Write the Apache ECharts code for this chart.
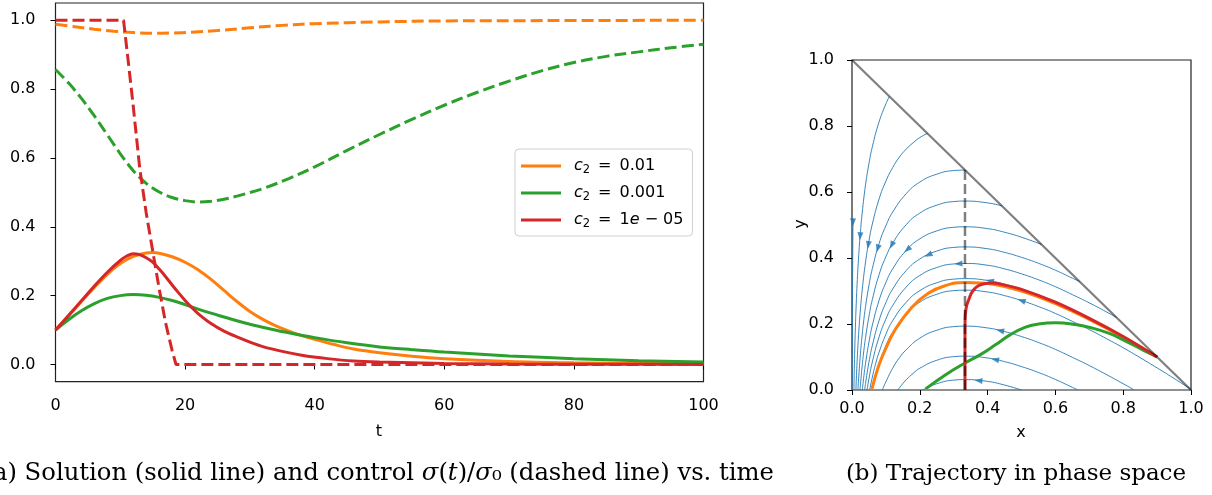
<!DOCTYPE html>
<html>
<head>
<meta charset="utf-8">
<script src="https://cdn.jsdelivr.net/npm/echarts@6/dist/echarts.min.js"></script>
<style>
  html, body { margin: 0; padding: 0; background: #fff; }
  #chart { width: 1212px; height: 495px; }
</style>
</head>
<body>
<div id="chart"></div>
<script>
// ---------- (a) time series: [t, value] ----------
const orangeSolid = [[0,0.1],[2,0.141],[4,0.183],[6,0.224],[8,0.262],[10,0.293],[12,0.314],[14,0.324],[15,0.325],[16,0.323],[18,0.313],[20,0.297],[22,0.275],[24,0.247],[26,0.215],[28,0.183],[30,0.154],[32,0.131],[34,0.112],[36,0.097],[38,0.084],[40,0.073],[43,0.058],[46,0.045],[50,0.034],[55,0.024],[60,0.017],[70,0.009],[80,0.005],[90,0.003],[100,0.002]];
const orangeDashed = [[0,0.988],[3,0.981],[6,0.974],[9,0.968],[12,0.964],[15,0.962],[18,0.963],[21,0.965],[25,0.970],[30,0.978],[35,0.985],[40,0.990],[50,0.995],[60,0.998],[80,0.999],[100,1.0]];
const greenSolid = [[0,0.1],[2,0.130],[4,0.156],[6,0.177],[8,0.192],[10,0.200],[12,0.203],[14,0.201],[16,0.195],[18,0.186],[20,0.174],[22,0.161],[24,0.149],[26,0.138],[28,0.127],[30,0.117],[33,0.104],[36,0.092],[40,0.078],[45,0.063],[50,0.051],[55,0.043],[60,0.036],[70,0.025],[80,0.017],[90,0.011],[100,0.007]];
const greenDashed = [[0,0.857],[2,0.818],[4,0.773],[6,0.722],[8,0.667],[10,0.612],[12,0.563],[14,0.526],[16,0.501],[18,0.485],[20,0.476],[22,0.472],[24,0.474],[26,0.480],[28,0.489],[32,0.511],[36,0.540],[40,0.574],[45,0.622],[50,0.668],[55,0.712],[60,0.753],[65,0.790],[70,0.823],[75,0.853],[80,0.877],[85,0.895],[90,0.908],[95,0.920],[100,0.930]];
const redSolid = [[0,0.1],[2,0.142],[4,0.185],[6,0.228],[8,0.268],[10,0.302],[11,0.315],[12,0.322],[13,0.319],[14,0.310],[15,0.297],[16,0.277],[17,0.255],[18,0.231],[19,0.208],[20,0.186],[21,0.166],[22,0.148],[24,0.119],[26,0.097],[28,0.080],[30,0.065],[32,0.052],[35,0.038],[38,0.027],[42,0.017],[46,0.010],[50,0.007],[60,0.003],[70,0.0012],[85,0.0005],[100,0.0002]];
const redDashed = [[0,1],[10.5,1],[11.2,0.885],[12,0.75],[13,0.57],[14,0.44],[15,0.33],[16,0.22],[17,0.12],[18,0.04],[18.6,0],[100,0]];

const tTicks = [0, 20, 40, 60, 80, 100];
const vTicks = [0, 0.2, 0.4, 0.6, 0.8, 1.0];
const legendNames = ['c2 = 0.01', 'c2 = 0.001', 'c2 = 1e − 05'];

// ---------- (b) phase plane: [x, y] ----------
// streamlines of the uncontrolled flow, listed in the direction of motion
const streamM = [[0.003,0.52],[0.0025,0.46],[0.002,0.385],[0.0015,0.29],[0.001,0.155],[0.0006,0]];
const streamA = [[0.110,0.889],[0.1,0.867],[0.08,0.813],[0.06,0.737],[0.05,0.686],[0.04,0.622],[0.03,0.536],[0.025,0.480],[0.02,0.411],[0.015,0.320],[0.012,0.249],[0.01,0.190],[0.008,0.118],[0.007,0.074],[0.006,0.024],[0.0056,0]];
const streamB = [[0.2225,0.7775],[0.2,0.765],[0.18,0.749],[0.16,0.730],[0.14,0.706],[0.12,0.674],[0.1,0.633],[0.08,0.579],[0.06,0.503],[0.05,0.452],[0.04,0.388],[0.03,0.302],[0.025,0.246],[0.02,0.177],[0.018,0.144],[0.015,0.086],[0.012,0.015],[0.0115,0]];
const streamC = [[0.3333,0.6665],[0.3,0.665],[0.25,0.654],[0.2,0.630],[0.16,0.595],[0.12,0.539],[0.1,0.498],[0.08,0.444],[0.06,0.368],[0.05,0.317],[0.04,0.253],[0.035,0.214],[0.03,0.167],[0.025,0.111],[0.02,0.042],[0.0174,0]];
const streamD = [[0.442,0.558],[0.4,0.567],[0.3333,0.5725],[0.3,0.571],[0.25,0.560],[0.2,0.536],[0.16,0.501],[0.12,0.445],[0.1,0.404],[0.08,0.350],[0.06,0.274],[0.05,0.223],[0.04,0.159],[0.035,0.120],[0.03,0.073],[0.025,0.017],[0.0235,0]];
const streamE = [[0.559,0.441],[0.5,0.463],[0.45,0.478],[0.4,0.489],[0.3333,0.4945],[0.3,0.493],[0.25,0.482],[0.2,0.458],[0.16,0.423],[0.12,0.367],[0.1,0.326],[0.08,0.272],[0.06,0.196],[0.05,0.145],[0.04,0.081],[0.035,0.042],[0.0305,0]];
const streamF = [[0.671,0.329],[0.65,0.339],[0.6,0.363],[0.55,0.384],[0.5,0.402],[0.45,0.417],[0.4,0.428],[0.3333,0.4335],[0.3,0.432],[0.25,0.421],[0.2,0.397],[0.16,0.362],[0.12,0.306],[0.1,0.265],[0.08,0.211],[0.06,0.135],[0.05,0.084],[0.045,0.054],[0.04,0.020],[0.0373,0]];
const streamG = [[0.78,0.220],[0.75,0.237],[0.7,0.264],[0.65,0.289],[0.6,0.313],[0.55,0.334],[0.5,0.352],[0.45,0.367],[0.4,0.378],[0.3333,0.3835],[0.3,0.382],[0.25,0.371],[0.2,0.347],[0.16,0.312],[0.12,0.256],[0.1,0.215],[0.08,0.161],[0.06,0.085],[0.05,0.034],[0.0443,0]];
const streamH = [[0.895,0.105],[0.85,0.133],[0.8,0.163],[0.75,0.191],[0.7,0.218],[0.65,0.243],[0.6,0.267],[0.55,0.288],[0.5,0.306],[0.45,0.321],[0.4,0.332],[0.3333,0.3375],[0.3,0.336],[0.25,0.325],[0.2,0.301],[0.16,0.266],[0.12,0.210],[0.1,0.169],[0.08,0.115],[0.07,0.081],[0.06,0.039],[0.0521,0]];
const streamI = [[1.0,0.002],[0.95,0.035],[0.9,0.067],[0.85,0.098],[0.8,0.128],[0.75,0.156],[0.7,0.183],[0.65,0.208],[0.6,0.232],[0.55,0.253],[0.5,0.271],[0.45,0.286],[0.4,0.297],[0.3333,0.3025],[0.3,0.301],[0.25,0.290],[0.2,0.266],[0.16,0.231],[0.12,0.175],[0.1,0.134],[0.08,0.080],[0.07,0.046],[0.059,0]];
const streamJ = [[0.833,0],[0.8,0.019],[0.75,0.047],[0.7,0.074],[0.65,0.099],[0.6,0.123],[0.55,0.144],[0.5,0.162],[0.45,0.177],[0.4,0.188],[0.3333,0.1935],[0.3,0.192],[0.25,0.181],[0.2,0.157],[0.16,0.122],[0.14,0.098],[0.12,0.066],[0.1,0.025],[0.0893,0]];
const streamK = [[0.667,0],[0.65,0.008],[0.6,0.032],[0.55,0.053],[0.5,0.071],[0.45,0.086],[0.4,0.097],[0.3333,0.1025],[0.3,0.101],[0.25,0.090],[0.2,0.066],[0.18,0.050],[0.16,0.031],[0.14,0.007],[0.135,0]];
const streamL = [[0.5,0],[0.45,0.015],[0.4,0.026],[0.3333,0.0315],[0.3,0.030],[0.25,0.019],[0.22,0.006],[0.208,0]];

const streamlines = [streamM, streamA, streamB, streamC, streamD, streamE, streamF, streamG, streamH, streamI, streamJ, streamK, streamL];
// x position of the single arrow head on each streamline (same order)
const arrowX = [0.0029, 0.024, 0.048, 0.076, 0.117, 0.163, 0.225, 0.314, 0.407, 0.5, 0.437, 0.422, 0.373];

// controlled trajectories, from the start point (0.9, 0.1)
const orangePath = [[0.9,0.1],[0.8,0.160],[0.7,0.214],[0.6,0.262],[0.5,0.300],[0.42,0.320],[0.3333,0.326],[0.274,0.316],[0.225,0.293],[0.176,0.25],[0.127,0.182],[0.1,0.127],[0.078,0.071],[0.058,0]];
const greenPath = [[0.9,0.1],[0.859,0.121],[0.8,0.152],[0.761,0.171],[0.7,0.19],[0.663,0.198],[0.6,0.204],[0.55,0.2],[0.51,0.19],[0.466,0.167],[0.422,0.136],[0.38,0.108],[0.3333,0.082],[0.274,0.045],[0.218,0.004]];
const redPath = [[0.9,0.1],[0.8,0.162],[0.7,0.217],[0.6,0.266],[0.5,0.305],[0.45,0.318],[0.412,0.324],[0.39,0.322],[0.373,0.316],[0.36,0.305],[0.352,0.293],[0.344,0.273],[0.338,0.255],[0.3345,0.23],[0.3333,0.19],[0.3333,0]];
const boundary = [[0,1],[1,0]];
const threshold = [[0.3333,0.6667],[0.3333,0]];
const unitTicks = [0, 0.2, 0.4, 0.6, 0.8, 1.0];

const ORANGE = '#ff7f0e', GREEN = '#2ca02c', RED = '#d62728', BLUE = '#1f77b4';
const FONT = 'DejaVu Sans';
const SERIF = 'DejaVu Serif';

function axis(gridIndex, min, max, ticks, margin, fmt) {
  return {
    type: 'value', gridIndex, min, max,
    axisLine: { show: false },
    splitLine: { show: false },
    axisTick: { show: true, length: 5, customValues: ticks, lineStyle: { color: '#000', width: 1 } },
    axisLabel: { customValues: ticks, margin, color: '#000', fontFamily: FONT, fontSize: 16, formatter: fmt }
  };
}
const oneDecimal = v => Number(v).toFixed(1);
const integer = v => String(Math.round(v));

function curve(data, color, width, dashed, z, xi, smooth) {
  return {
    type: 'line', xAxisIndex: xi, yAxisIndex: xi, data,
    showSymbol: false, symbol: 'none', silent: true, animation: false, z,
    smooth: smooth === undefined ? 0.35 : smooth,
    lineStyle: { color, width, type: dashed ? dashed : 'solid', cap: 'butt' },
    itemStyle: { color }
  };
}

const series = [
  Object.assign(curve(orangeSolid, ORANGE, 3, null, 3, 0), { name: legendNames[0] }),
  curve(orangeDashed, ORANGE, 3, [12, 5], 3, 0),
  Object.assign(curve(greenSolid, GREEN, 3, null, 4, 0), { name: legendNames[1] }),
  curve(greenDashed, GREEN, 3, [12, 5], 4, 0),
  Object.assign(curve(redSolid, RED, 3, null, 5, 0), { name: legendNames[2] }),
  curve(redDashed, RED, 3, [12, 5], 5, 0, false)
];
streamlines.forEach(s => series.push(curve(s, BLUE, 0.9, null, 2, 1, 0.5)));
series.push(curve(orangePath, ORANGE, 3, null, 4, 1, 0.45));
series.push(curve(greenPath, GREEN, 3, null, 5, 1, 0.45));
series.push(curve(redPath, RED, 3, null, 6, 1, 0.35));
series.push(curve(boundary, 'rgba(0,0,0,0.5)', 2.2, null, 7, 1, false));
series.push(curve(threshold, 'rgba(0,0,0,0.5)', 2.5, [10, 4], 7, 1, false));
series.push({
  id: 'arrows', type: 'scatter', xAxisIndex: 1, yAxisIndex: 1, data: [], z: 3,
  symbol: 'triangle', symbolSize: [6, 8], silent: true, animation: false,
  itemStyle: { color: BLUE }
});

const labelText = { fontFamily: FONT, fontSize: 16, fill: '#000' };
const captionRich = {
  m: { fontFamily: SERIF, fontStyle: 'italic', fontSize: 24.3, fill: '#000', color: '#000' }
};

const option = {
  animation: false,
  backgroundColor: '#fff',
  grid: [
    { left: 55.5, top: 3, width: 648, height: 378.7, show: true, borderColor: '#222', borderWidth: 1.2, backgroundColor: 'transparent' },
    { left: 852, top: 60, width: 339, height: 330, show: true, borderColor: '#222', borderWidth: 1.2, backgroundColor: 'transparent' }
  ],
  xAxis: [
    axis(0, 0, 100, tTicks, 16, integer),
    axis(1, 0, 1, unitTicks, 11, oneDecimal)
  ],
  yAxis: [
    axis(0, -0.05, 1.05, vTicks, 20, oneDecimal),
    axis(1, 0, 1, unitTicks, 18, oneDecimal)
  ],
  legend: {
    data: legendNames, orient: 'vertical', left: 515, top: 149,
    padding: [7, 9, 6, 6], itemGap: 7, itemWidth: 40, itemHeight: 3, icon: 'rect',
    selectedMode: false, borderColor: '#d0d0d0', borderWidth: 1, borderRadius: 4,
    backgroundColor: 'rgba(255,255,255,0.85)',
    // c₂ written as italic c with a lowered 2; relation spaced like typeset math
    formatter: name => {
      const rest = name.slice(name.indexOf('=') + 1).trim().replace('1e', '1{i|e}');
      return '{i|c}{s|2}\u2002=\u2002' + rest;
    },
    textStyle: {
      fontFamily: FONT, fontSize: 16, color: '#000', lineHeight: 20, padding: [0, 0, 0, 8],
      rich: {
        i: { fontFamily: FONT, fontStyle: 'italic', fontSize: 16, color: '#000', lineHeight: 20 },
        s: { fontFamily: FONT, fontSize: 11.5, color: '#000', lineHeight: 20, verticalAlign: 'bottom' }
      }
    }
  },
  graphic: [
    { type: 'text', x: 379, y: 432, silent: true, style: Object.assign({ text: 't', align: 'center', verticalAlign: 'middle', textAlign: 'center', textVerticalAlign: 'middle' }, labelText) },
    { type: 'text', x: 1021, y: 433, silent: true, style: Object.assign({ text: 'x', align: 'center', verticalAlign: 'middle', textAlign: 'center', textVerticalAlign: 'middle' }, labelText) },
    { type: 'text', x: 801, y: 224, rotation: Math.PI / 2, silent: true, style: Object.assign({ text: 'y', align: 'center', verticalAlign: 'middle', textAlign: 'center', textVerticalAlign: 'middle' }, labelText) },
    { type: 'text', x: 774, y: 474, silent: true, style: {
        text: '(a) Solution (solid line) and control {m|σ}({m|t})/{m|σ}₀ (dashed line) vs. time',
        align: 'right', verticalAlign: 'middle', textAlign: 'right', textVerticalAlign: 'middle',
        fontFamily: SERIF, fontSize: 24.3, fill: '#000', rich: captionRich } },
    { type: 'text', x: 1016, y: 474, silent: true, style: {
        text: '(b) Trajectory in phase space',
        align: 'center', verticalAlign: 'middle', textAlign: 'center', textVerticalAlign: 'middle',
        fontFamily: SERIF, fontSize: 23, fill: '#000' } }
  ],
  series
};

const chart = echarts.init(document.getElementById('chart'), null, { renderer: 'canvas' });
chart.setOption(option);

// Arrow heads: placed on each streamline and turned along its local direction
function interpAt(line, x) {
  for (let i = 0; i < line.length - 1; i++) {
    const a = line[i], b = line[i + 1];
    if ((x <= a[0] && x >= b[0]) || (x >= a[0] && x <= b[0])) {
      const f = (a[0] === b[0]) ? 0 : (x - a[0]) / (b[0] - a[0]);
      return { y: a[1] + f * (b[1] - a[1]), a, b };
    }
  }
  return { y: line[0][1], a: line[0], b: line[1] };
}
const arrows = streamlines.map((line, k) => {
  const x = arrowX[k];
  const seg = interpAt(line, x);
  const pa = chart.convertToPixel({ gridIndex: 1 }, seg.a);
  const pb = chart.convertToPixel({ gridIndex: 1 }, seg.b);
  const ang = Math.atan2(-(pb[1] - pa[1]), pb[0] - pa[0]) * 180 / Math.PI;
  return { value: [x, seg.y], symbolRotate: ang - 90 };
});
chart.setOption({ series: [{ id: 'arrows', data: arrows }] });
</script>
</body>
</html>
